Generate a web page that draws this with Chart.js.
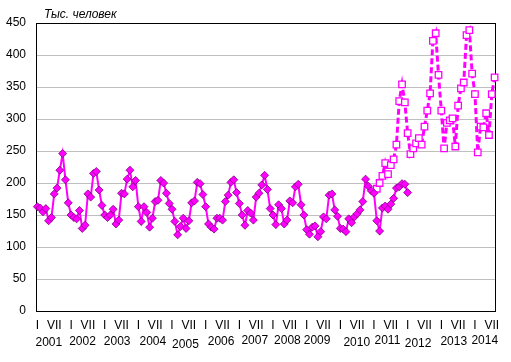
<!DOCTYPE html>
<html>
<head>
<meta charset="utf-8">
<script src="https://cdn.jsdelivr.net/npm/chart.js@4.4.1/dist/chart.umd.min.js"></script>
<style>
  html, body { margin: 0; padding: 0; background: #fff; }
</style>
</head>
<body>
<canvas id="chart" width="511" height="362"></canvas>
<script>
// months are shown as roman numerals, years below them
const monthNames = ["I", "II", "III", "IV", "V", "VI", "VII", "VIII", "IX", "X", "XI", "XII"];
const years = [2001, 2002, 2003, 2004, 2005, 2006, 2007, 2008, 2009, 2010, 2011, 2012, 2013, 2014];
const monthsIn2014 = 8; // data runs up to VIII 2014

// old series, I 2001 .. I 2012 (solid line, diamonds)
const oldSeries = [
  163, 161, 155, 160, 141, 146, 183, 192, 220, 246, 205, 169,
  150, 146, 144, 157, 129, 134, 183, 178, 215, 218, 189, 165,
  150, 146, 150, 159, 136, 142, 184, 183, 206, 220, 194, 204,
  163, 140, 163, 154, 131, 145, 171, 173, 204, 200, 184, 168,
  159, 140, 119, 132, 145, 129, 141, 169, 172, 201, 199, 182,
  163, 136, 131, 128, 145, 145, 142, 171, 181, 201, 205, 185,
  168, 150, 134, 157, 153, 142, 178, 184, 197, 212, 190, 160,
  150, 135, 166, 160, 136, 142, 172, 169, 194, 198, 166, 150,
  127, 120, 131, 133, 116, 124, 147, 144, 181, 183, 158, 148,
  129, 128, 124, 144, 138, 147, 152, 158, 171, 206, 195, 188,
  184, 141, 125, 161, 164, 159, 167, 176, 192, 194, 199, 198,
  185
];

// new series, II 2011 .. VIII 2014 (dashed line, squares)
const newSeriesStart = "II 2011";
const newSeries = [
  191, 200, 211, 231, 214, 228, 237, 260, 328, 354, 326,
  278, 245, 254, 262, 270, 260, 288, 313, 340, 422, 434, 369,
  313, 254, 294, 298, 301, 257, 321, 348, 357, 431, 439, 371, 339,
  248, 288, 287, 309, 275, 339, 365
];

const yTicks = { min: 0, max: 450, step: 50 };

// build category list
let categories = [];
for (const y of years) {
  let count = y === 2014 ? monthsIn2014 : 12;
  for (let m = 0; m < count; m++) {
    categories.push(monthNames[m] + " " + y);
  }
}

let oldData = categories.map((c, i) => (i < oldSeries.length ? oldSeries[i] : null));
let startIdx = categories.indexOf(newSeriesStart);
let newData = categories.map((c, i) =>
  i >= startIdx && i - startIdx < newSeries.length ? newSeries[i - startIdx] : null
);

const FONT = "'Liberation Sans', Arial, sans-serif";

// frame around plot area + unit caption
const framePlugin = {
  id: "frame",
  beforeDatasetsDraw(chart) {
    const { ctx, chartArea } = chart;
    ctx.save();
    ctx.strokeStyle = "#000";
    ctx.lineWidth = 1;
    ctx.strokeRect(
      Math.round(chartArea.left) + 0.5,
      Math.round(chartArea.top) + 0.5,
      Math.round(chartArea.right - chartArea.left) - 1,
      Math.round(chartArea.bottom - chartArea.top)
    );
    ctx.fillStyle = "#000";
    ctx.font = "italic 12px " + FONT;
    ctx.textBaseline = "middle";
    ctx.textAlign = "left";
    ctx.fillText("Тыс. человек", chartArea.left + 8, chartArea.top - 8);
    ctx.restore();
  },
};

// year labels under the I / VII row
const yearPlugin = {
  id: "yearLabels",
  afterDraw(chart, args, opts) {
    const { ctx } = chart;
    const xScale = chart.scales.x;
    ctx.save();
    ctx.fillStyle = "#000";
    ctx.font = "12px " + FONT;
    ctx.textAlign = "center";
    ctx.textBaseline = "middle";
    years.forEach((y, k) => {
      let first = categories.findIndex((c) => c.endsWith(" " + y));
      let last = categories.length - 1 - [...categories].reverse().findIndex((c) => c.endsWith(" " + y));
      let x = (xScale.getPixelForValue(first) + xScale.getPixelForValue(last)) / 2;
      ctx.fillText(String(y), x + opts.dx[k], chart.chartArea.bottom + 32 + opts.dy[k]);
    });
    ctx.restore();
  },
};

new Chart(document.getElementById("chart"), {
  type: "line",
  data: {
    labels: categories,
    datasets: [
      {
        data: oldData,
        borderColor: "#FF00FF",
        borderWidth: 2,
        pointStyle: "rectRot",
        pointRadius: 4,
        pointBackgroundColor: "#FF00FF",
        pointBorderColor: "#800080",
        pointBorderWidth: 0.8,
        tension: 0,
        spanGaps: false,
      },
      {
        data: newData,
        borderColor: "#FF00FF",
        borderWidth: 3,
        borderDash: [6, 3],
        pointStyle: "rect",
        pointRadius: 4.6,
        pointBackgroundColor: "#FFFFFF",
        pointBorderColor: "#FF00FF",
        pointBorderWidth: 1.3,
        tension: 0,
        spanGaps: false,
      },
    ],
  },
  options: {
    responsive: false,
    animation: false,
    devicePixelRatio: 1,
    layout: { padding: { top: 23, right: 15, left: 0, bottom: 0 } },
    plugins: {
      legend: { display: false },
      tooltip: { enabled: false },
      yearLabels: {
        dx: [-4, -4, -3, -1, -2, 0, 0, -1, -5, 1, -2, -5, -3, 0],
        dy: [0, -1, -1, -1, 2, -1, -2, -2, -2, 0, -2, 1, -1, -2],
      },
    },
    scales: {
      x: {
        type: "category",
        offset: true,
        grid: { display: false, drawTicks: false },
        border: { display: false },
        ticks: {
          autoSkip: false,
          maxRotation: 0,
          minRotation: 0,
          padding: 7,
          color: "#000",
          font: { family: FONT, size: 12 },
          callback: function (value) {
            let m = this.getLabelForValue(value).split(" ")[0];
            return m === "I" || m === "VII" ? m : "";
          },
        },
        afterFit(scale) {
          scale.height = 51;
        },
      },
      y: {
        min: yTicks.min,
        max: yTicks.max,
        grid: {
          drawTicks: false,
          color: (c) => (c.tick.value === yTicks.min || c.tick.value === yTicks.max ? "rgba(0,0,0,0)" : "#BFBFBF"),
          lineWidth: 1,
        },
        border: { display: false },
        ticks: {
          stepSize: yTicks.step,
          padding: 10,
          color: "#000",
          font: { family: FONT, size: 12 },
        },
        afterFit(scale) {
          scale.width = 36;
        },
      },
    },
  },
  plugins: [framePlugin, yearPlugin],
});
</script>
</body>
</html>
